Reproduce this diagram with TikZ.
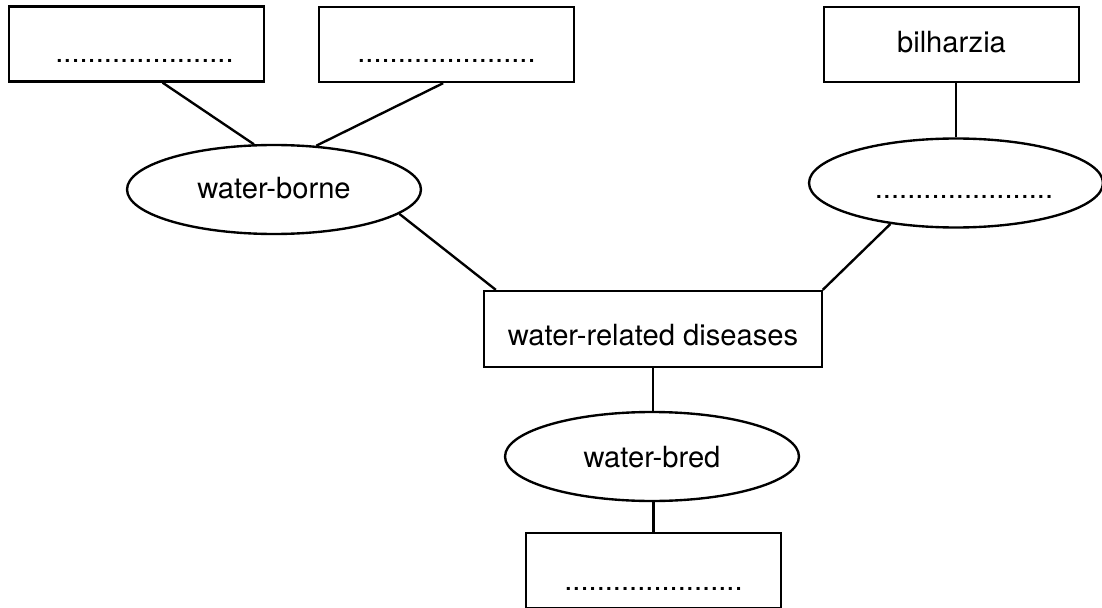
\documentclass[tikz,border=0pt]{standalone}
\usepackage{fontspec}
\setmainfont{TeX Gyre Heros}
\usetikzlibrary{shapes.geometric}
\begin{document}
\begin{tikzpicture}
  [
    x = 0.02cm, y = -0.02cm,
    line width = 1.35pt,
    every node/.style = {font = \fontsize{16.6}{20}\selectfont, inner sep = 0pt},
    box/.style = {draw, rectangle, minimum width = 5.1cm, minimum height = 1.5cm},
    oval/.style = {draw, ellipse, minimum width = 5.88cm, minimum height = 1.78cm},
    sink/.style = {text height = #1, text depth = 0pt},
  ]

  \useasboundingbox (0,0) rectangle (1102,608);

  \node [box, sink = 0.76cm] (borneleft) at (136.5,44) {\hspace*{0.32cm}......................};
  \node [box, sink = 0.74cm] (borneright) at (446.5,44.5) {......................};
  \node [box, sink = 0.34cm] (bilharzia) at (951.5,44.5) {bilharzia};

  \node [oval, sink = 0.38cm] (borne) at (274,189.5) {water-borne};
  \node [oval, sink = 0.64cm] (other) at (956,183) {\hspace*{0.32cm}......................};

  \node [box, sink = 0.68cm, minimum width = 6.76cm, minimum height = 1.52cm] (related) at (653,329) {water-related diseases};

  \node [oval, sink = 0.42cm] (bred) at (652,456.5) {water-bred};
  \node [box, sink = 0.78cm] (bredbottom) at (653.5,570.5) {......................};

  \draw (borneleft.-56.5) -- (borne.114.2);
  \draw (borneright.-95.3) -- (borne.46);
  \draw (other.north) -- (other.north |- bilharzia.south);
  \draw (borne.-11.9) -- (related.166.6);
  \draw (other.-148.8) -- (related.13.4);
  \draw (related.south) -- (related.south |- bred.north);
  \draw (bredbottom.north) -- (bredbottom.north |- bred.south);

\end{tikzpicture}
\end{document}
